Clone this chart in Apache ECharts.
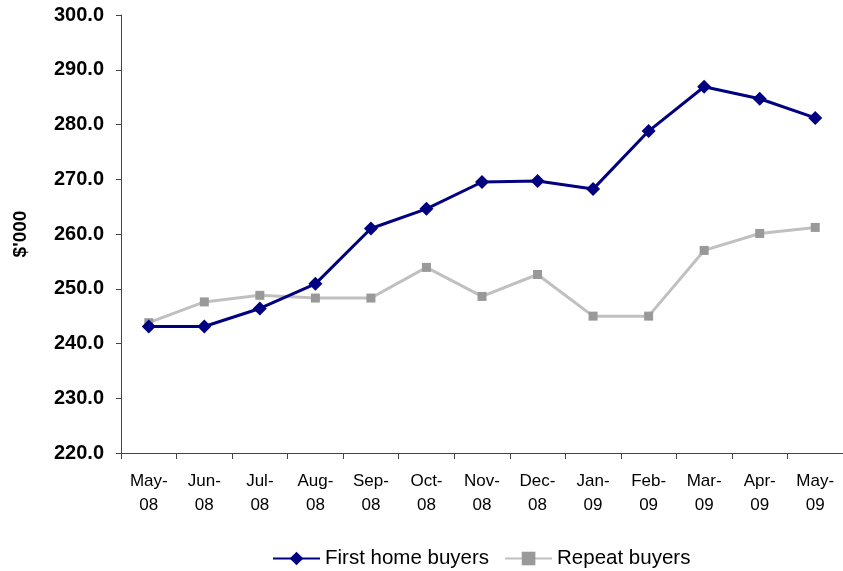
<!DOCTYPE html>
<html>
<head>
<meta charset="utf-8">
<script src="https://cdn.jsdelivr.net/npm/echarts@6/dist/echarts.min.js"></script>
<style>
  html, body { margin: 0; padding: 0; background: #fff; }
  #chart { width: 843px; height: 571px; }
</style>
</head>
<body>
<div id="chart"></div>
<script>
// Monthly median loan size, $'000
const months = ['May-\n08', 'Jun-\n08', 'Jul-\n08', 'Aug-\n08', 'Sep-\n08', 'Oct-\n08', 'Nov-\n08',
                'Dec-\n08', 'Jan-\n09', 'Feb-\n09', 'Mar-\n09', 'Apr-\n09', 'May-\n09'];
const firstHomeBuyers = [243.1, 243.1, 246.4, 250.9, 261.0, 264.6, 269.5, 269.7, 268.2, 278.8, 286.9, 284.7, 281.2];
const repeatBuyers    = [243.8, 247.6, 248.8, 248.3, 248.3, 253.9, 248.6, 252.6, 245.0, 245.0, 257.0, 260.1, 261.2];
const yMin = 220, yMax = 300, yStep = 10;

const FONT = '"Liberation Sans", Arial, sans-serif';
const axisColor = '#444';

const chart = echarts.init(document.getElementById('chart'), null, { renderer: 'canvas' });
chart.setOption({
  animation: false,
  backgroundColor: '#ffffff',
  textStyle: { fontFamily: FONT, color: '#000' },
  grid: { left: 121, right: -7, top: 15, bottom: 118, containLabel: false },
  legend: {
    top: 548,
    left: 272,
    padding: 0,
    itemWidth: 47,
    itemHeight: 17,
    itemGap: 15,
    textStyle: { fontFamily: FONT, fontSize: 20.5, color: '#000', padding: [0, 0, 0, 0] },
    data: ['First home buyers', 'Repeat buyers']
  },
  xAxis: {
    type: 'category',
    data: months,
    boundaryGap: true,
    axisLine: { lineStyle: { color: axisColor, width: 1 } },
    axisTick: { show: true, length: 6, lineStyle: { color: axisColor } },
    axisLabel: {
      interval: 0,
      margin: 16,
      fontFamily: FONT,
      fontSize: 17,
      lineHeight: 24,
      color: '#000'
    },
    splitLine: { show: false }
  },
  yAxis: {
    type: 'value',
    min: yMin,
    max: yMax,
    interval: yStep,
    name: "$'000",
    nameLocation: 'middle',
    nameRotate: 90,
    nameGap: 91,
    nameTextStyle: { fontFamily: FONT, fontSize: 19, fontWeight: 'bold', color: '#000' },
    axisLine: { show: true, lineStyle: { color: axisColor, width: 1 } },
    axisTick: { show: true, length: 5, lineStyle: { color: axisColor } },
    axisLabel: {
      margin: 17,
      fontFamily: FONT,
      fontSize: 20,
      fontWeight: 'bold',
      color: '#000',
      formatter: v => v.toFixed(1)
    },
    splitLine: { show: false }
  },
  series: [
    {
      name: 'First home buyers',
      type: 'line',
      data: firstHomeBuyers,
      symbol: 'diamond',
      symbolSize: 14,
      lineStyle: { color: '#000080', width: 3 },
      itemStyle: { color: '#000080' },
      z: 3
    },
    {
      name: 'Repeat buyers',
      type: 'line',
      data: repeatBuyers,
      symbol: 'rect',
      symbolSize: 9,
      lineStyle: { color: '#c0c0c0', width: 3 },
      itemStyle: { color: '#999999' },
      z: 2
    }
  ]
});
</script>
</body>
</html>
